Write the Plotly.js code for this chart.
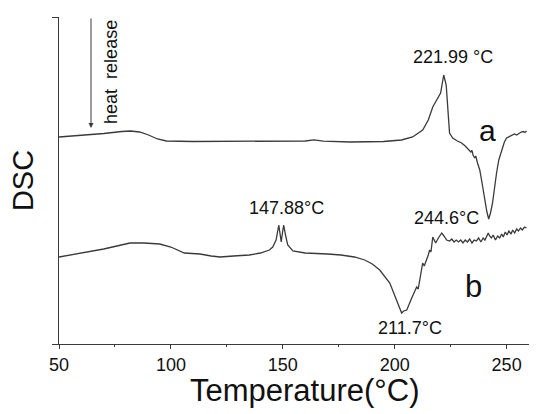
<!DOCTYPE html>
<html>
<head>
<meta charset="utf-8">
<script src="https://cdn.plot.ly/plotly-3.0.1.min.js"></script>
<style>
  html, body { margin: 0; padding: 0; background: #fff; }
  #chart { width: 550px; height: 414px; }
</style>
</head>
<body>
<div id="chart"></div>
<script>
// temperatures (°C) and DSC signal (arbitrary units)
const tempA = [50, 60, 70, 78, 82, 86, 90, 94, 98, 110, 130, 150, 160, 164, 168, 180, 195, 203, 208, 212.5,
  215, 217, 219.2, 220.5, 221.9, 223, 224.5, 225.9, 228, 229.9, 231.5, 233, 233.5, 234, 234.5, 235, 235.7, 236.2,
  237, 238, 238.8, 240.2, 241.2, 242, 242.8, 243.7, 244.5, 245.5, 246.5, 247.8, 249, 250, 251, 252.7, 253.5,
  254.5, 255.8, 256.5, 257.5, 258.2, 258.9];
const dscA = [207, 208.5, 210.5, 212.5, 213, 212, 209, 205, 203, 202.5, 202.5, 202.5, 203, 204.2, 202.8, 202, 202.5, 204, 207, 214,
  224, 237, 246, 251, 269, 259, 211, 206, 203, 201, 198, 195, 194, 192, 193.5, 189, 186, 188,
  181, 174, 164, 144, 132, 125, 131, 141, 156, 171, 184, 194, 202, 206, 207, 209, 210,
  209, 211, 212, 212.5, 211.5, 213];

const tempB = [50, 60, 70, 81.7, 88, 95, 100, 106, 110, 113, 118, 122, 128, 135, 140, 144, 145.5, 147, 148.2, 149,
  149.3, 149.7, 150.4, 151.2, 152.2, 154.5, 160, 170, 176, 182, 186.6, 190, 193.3, 197.8, 200.9, 203.1, 204, 205.4,
  207.6, 209.8, 210.5, 211.2, 212.5, 213.2, 214.3, 215, 215.6, 216.2, 217, 218.3, 219.5, 221, 222, 223.2, 224.5,
  225.5, 226.5, 227.5, 228.5, 229.5, 230.5, 231.5, 232.5, 233.5, 234.5, 235.5, 236.5, 237.5, 238.5, 239.5, 240.3,
  241.1, 241.8, 242.4, 243.2, 244, 245, 246, 246.9, 247.8, 248.5, 249.4, 250.2, 251, 252, 252.7, 253.6, 254.5,
  255.3, 256.2, 257, 258, 258.9];
const dscB = [87, 91, 95, 101, 101, 100, 97, 91, 90.5, 90, 88, 87, 88, 89, 91, 94, 97, 104, 119, 109,
  102, 109, 119, 109, 99, 93, 91, 90, 89, 87, 84, 80, 74, 61, 44, 31, 33, 34,
  46, 57, 55, 64, 81, 78, 84, 89, 94, 92, 107, 101, 106, 111, 108, 104, 103,
  105, 102, 104, 102, 104, 101, 104, 102, 105, 101, 104, 103, 106, 102, 106, 104,
  107, 111, 108, 106, 109, 104, 108, 106, 110, 107, 112, 109, 113, 110, 114, 111, 115,
  113, 116, 114, 117, 116];

const xTicks = [50, 100, 150, 200, 250];

const ink = '#3a3a3a';
const font = 'Liberation Sans, Arial, sans-serif';

const line = { color: ink, width: 1.3 };

Plotly.newPlot('chart', [
  { x: tempA, y: dscA, type: 'scatter', mode: 'lines', line: line, hoverinfo: 'skip' },
  { x: tempB, y: dscB, type: 'scatter', mode: 'lines', line: line, hoverinfo: 'skip' }
], {
  width: 550,
  height: 414,
  showlegend: false,
  paper_bgcolor: '#fff',
  plot_bgcolor: '#fff',
  margin: { l: 59, r: 21, t: 17, b: 70 },
  font: { family: font, color: '#111' },
  xaxis: {
    range: [50, 260],
    tickvals: xTicks,
    ticks: 'outside',
    ticklen: 4,
    tickcolor: ink,
    minor: { dtick: 25, tick0: 50, ticks: 'outside', ticklen: 2, tickcolor: ink },
    showline: true,
    linecolor: ink,
    linewidth: 1.3,
    showgrid: false,
    zeroline: false,
    tickfont: { size: 18, family: font, color: '#111' }
  },
  yaxis: {
    range: [0, 327],
    tickvals: [0, 327],
    ticks: 'outside',
    ticklen: 6,
    tickcolor: ink,
    showticklabels: false,
    showline: true,
    linecolor: ink,
    linewidth: 1.3,
    showgrid: false,
    zeroline: false,
    title: { text: 'DSC', font: { size: 29, family: font, color: '#111' }, standoff: 9 }
  },
  annotations: [
    // x axis title
    { xref: 'paper', yref: 'paper', x: 0.523, y: -0.141, yanchor: 'middle',
      text: 'Temperature(°C)', showarrow: false, font: { size: 31 } },
    { x: 225.9, y: 287, text: '221.99 °C', showarrow: false, font: { size: 18 } },
    { x: 241.3, y: 214, text: 'a', showarrow: false, font: { size: 30 } },
    { x: 151.8, y: 136, text: '147.88°C', showarrow: false, font: { size: 18 } },
    { x: 223.2, y: 126, text: '244.6°C', showarrow: false, font: { size: 18 } },
    { x: 206.7, y: 16, text: '211.7°C', showarrow: false, font: { size: 18 } },
    { x: 235.3, y: 58, text: 'b', showarrow: false, font: { size: 31 } },
    // heat release arrow
    { x: 64.3, y: 216, ax: 0, ay: -111, text: '', showarrow: true,
      arrowhead: 2, arrowsize: 1, arrowwidth: 1, arrowcolor: ink },
    { x: 73.2, y: 272, text: 'heat  release', textangle: -90, showarrow: false, font: { size: 18 } }
  ]
}, { displayModeBar: false, staticPlot: true });
</script>
</body>
</html>
